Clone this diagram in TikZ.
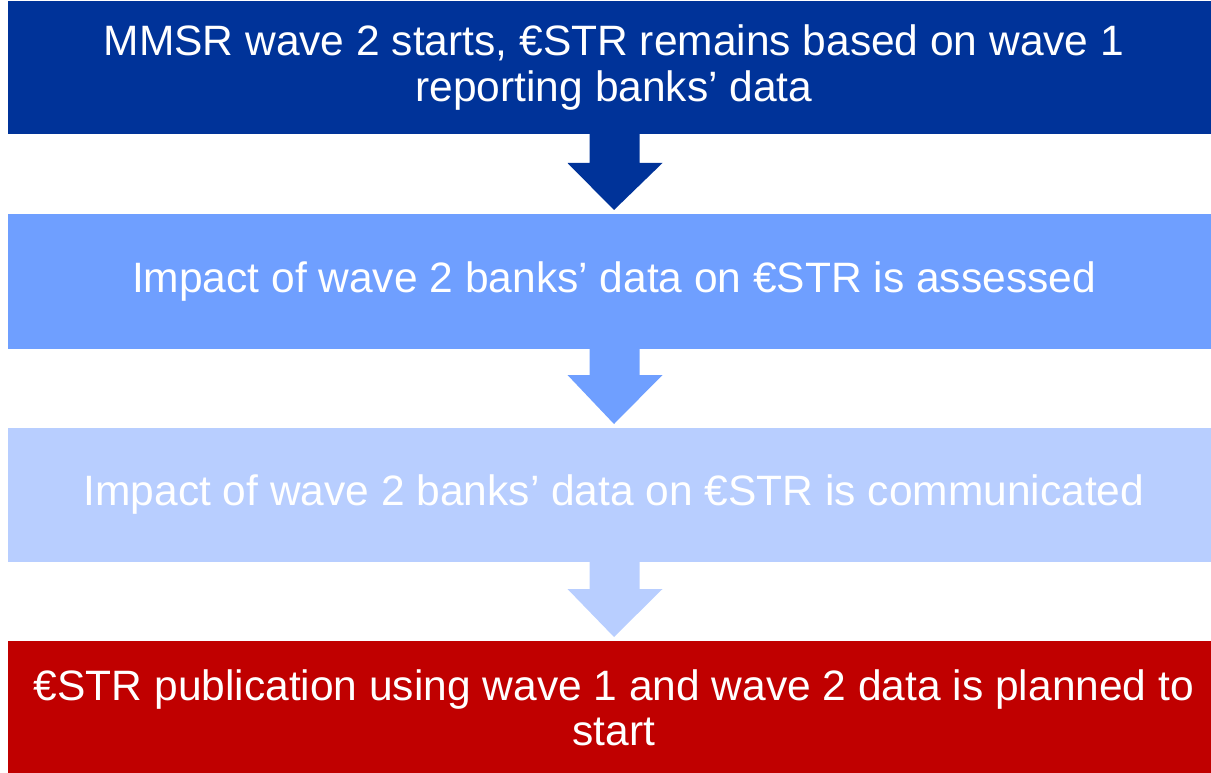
\documentclass[tikz,border=0pt]{standalone}
\usepackage{fontspec}
\setmainfont{Liberation Sans}
\usetikzlibrary{calc}
\definecolor{cdark}{HTML}{003399}
\definecolor{cmid}{HTML}{6F9FFF}
\definecolor{clight}{HTML}{B8CEFF}
\definecolor{cred}{HTML}{C00000}
\newcommand\flowarrow[4]{%
  \fill[#1] ($(#2.south)+(-24.5,0)$) -- ($(#2.south)+(-24.5,#4)$) -- ($(#2.south)+(-46.5,#4)$)
    -- ($(#3.north)+(0,-4)$) -- ($(#2.south)+(48.5,#4)$) -- ($(#2.south)+(25.5,#4)$)
    -- ($(#2.south)+(25.5,0)$) -- cycle;}
\begin{document}
\begin{tikzpicture}[x=1pt,y=-1pt,
  box/.style={rectangle, inner sep=0pt, outer sep=0pt, minimum width=1212pt,
    text=white, align=center, font=\fontsize{42.5}{45.5}\selectfont}]
\useasboundingbox (0,0) rectangle (1211,773);
\begin{scope}
\clip (0,0) rectangle (1211,773);
\node[box, fill=cdark, minimum height=133pt] (b1) at (614,67.5)
  {MMSR wave 2 starts, €STR remains based on wave 1\\reporting banks’ data};
\node[box, fill=cmid, minimum height=135pt] (b2) at (614,281.5)
  {Impact of wave 2 banks’ data on €STR is assessed};
\node[box, fill=clight, minimum height=134pt] (b3) at (614,495)
  {Impact of wave 2 banks’ data on €STR is communicated};
\node[box, fill=cred, minimum height=134pt] (b4) at (614,708)
  {€STR publication using wave 1 and wave 2 data is planned to\\start};
\flowarrow{cdark}{b1}{b2}{29}
\flowarrow{cmid}{b2}{b3}{26}
\flowarrow{clight}{b3}{b4}{27}
\end{scope}
\end{tikzpicture}
\end{document}
